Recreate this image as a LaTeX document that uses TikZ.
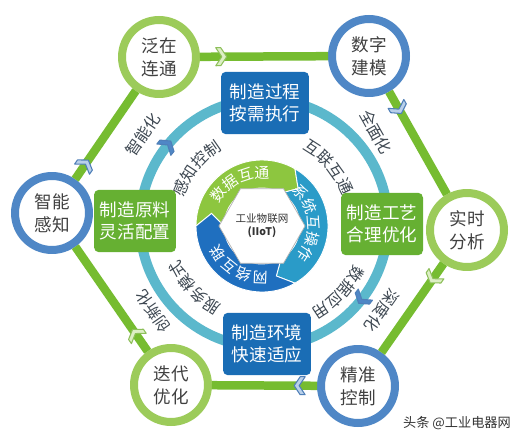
\documentclass[tikz,border=0pt]{standalone}
\usepackage{fontspec}
\setmainfont{Noto Sans CJK SC}
\usetikzlibrary{positioning, shapes.geometric, decorations.markings, decorations.text}

\definecolor{hexgreen}{HTML}{76BC30}
\definecolor{ringteal}{HTML}{5BB8CC}
\definecolor{boxblue}{HTML}{1A6DB5}
\definecolor{boxgreen}{HTML}{66B032}
\definecolor{circgreen}{HTML}{9CCB5A}
\definecolor{circblue}{HTML}{4F87C6}
\definecolor{hubgreen}{HTML}{8DC63F}
\definecolor{hubteal}{HTML}{2A9BC8}
\definecolor{hubblue}{HTML}{1F6FBF}
\definecolor{labgray}{HTML}{3E4852}
\definecolor{cvgfill}{HTML}{DDEFC5}
\definecolor{cvgline}{HTML}{8DBF5A}
\definecolor{cvbfill}{HTML}{B9D0EA}
\definecolor{cvbline}{HTML}{4F7FB8}

\newcommand{\chevpath}{(-6,9) -- (-1,9) -- (5,0) -- (-1,-9) -- (-6,-9) -- (0,0) -- cycle}

\tikzset{
  stage/.style={circle, fill=white, line width=0.16cm, minimum size=1.48cm, inner sep=0pt,
    align=center, text=black!75, font=\fontsize{10}{13}\selectfont},
  gstage/.style={stage, draw=circgreen},
  bstage/.style={stage, draw=circblue},
  mbox/.style={rounded corners=0.1cm, minimum height=1.25cm, align=center, text=white,
    font=\fontsize{10}{12.5}\selectfont},
  bluebox/.style={mbox, fill=boxblue, minimum width=1.76cm},
  greenbox/.style={mbox, fill=boxgreen, minimum width=1.56cm},
  hexline/.style={draw=hexgreen, line width=0.17cm},
  elab/.style={sloped, allow upside down, anchor=north, inner sep=1pt, outer sep=#1,
    text=labgray, font=\fontsize{9}{9}\selectfont},
  chevgreen/.style={fill=cvgfill, draw=cvgline, line width=0.6pt, line join=round},
  chevblue/.style={fill=cvbfill, draw=cvbline, line width=0.6pt, line join=round},
  ringchev/.style={fill=circblue, draw=cvbline, line width=0.6pt, line join=round},
  chev/.style={postaction={decorate, decoration={markings,
    mark=at position 0.17 with {\draw[#1] \chevpath;}}}},
  hexa/.style={regular polygon, regular polygon sides=6, draw=gray!60, fill=white,
    minimum size=1.44cm, inner sep=0pt, align=center, text=black!80,
    font=\fontsize{6}{7.5}\selectfont},
  arctext/.style={decorate, decoration={text along path, text align=center, text color=#1}}
}

\begin{document}
\begin{tikzpicture}[x=0.02cm, y=0.02cm]
\useasboundingbox[fill=white] (0,0) rectangle (523,443);

% inner ring
\coordinate (ring) at (264,220);
\draw[ringteal, line width=0.2cm] (ring) circle[radius=124];
\foreach \a in {141,-38}
  \draw[ringchev, shift={(ring)}, shift={(\a:124)}, rotate=\a-90] \chevpath;

% ring labels
\path[arctext=labgray, decoration={text={|\fontsize{9}{9}\selectfont|感知控制}}, shift={(ring)}]
  (176:84) arc[start angle=176, end angle=106, radius=84];
\path[arctext=labgray, decoration={text={|\fontsize{9}{9}\selectfont|互联互通}}, shift={(ring)}]
  (76:83) arc[start angle=76, end angle=6, radius=83];
\path[arctext=labgray, decoration={text={|\fontsize{9}{9}\selectfont|数据应用}}, shift={(ring)}]
  (-13:99) arc[start angle=-13, end angle=-73, radius=99];
\path[arctext=labgray, decoration={text={|\fontsize{9}{9}\selectfont|服务模式}}, shift={(ring)}]
  (-105:92) arc[start angle=-105, end angle=-169, radius=92];

% boxes on the ring
\node[bluebox] (guocheng) at (265,340) {制造过程\\按需执行};
\node[greenbox] (gongyi) at (382,219) {制造工艺\\合理优化};
\node[bluebox] (huanjing) at (267,99) {制造环境\\快速适应};
\node[greenbox] (yuanliao) at (135,222) {制造原料\\灵活配置};

% outer circles
\node[gstage] (fanzai) at (159,386) {泛在\\连通};
\node[bstage] (shuzi) at (369,387) {数字\\建模};
\node[gstage] (shishi) at (467,213) {实时\\分析};
\node[bstage] (jingzhun) at (358,57) {精准\\控制};
\node[gstage] (diedai) at (171,58) {迭代\\优化};
\node[bstage] (zhineng) at (52,230) {智能\\感知};

\draw[hexline, chev=chevgreen] (fanzai) -- (shuzi);
\draw[hexline, chev=chevblue] (shuzi) -- node[elab=0.44cm, pos=0.245]{全面化} (shishi);
\draw[hexline, chev=chevgreen] (shishi) -- node[elab=0.3cm, pos=0.68]{深度化} (jingzhun);
\draw[hexline, chev=chevblue] (jingzhun) -- (diedai);
\draw[hexline, chev=chevgreen] (diedai) -- node[elab=0.36cm, pos=0.23]{创新化} (zhineng);
\draw[hexline, chev=chevblue] (zhineng) -- node[elab=0.44cm, pos=0.7]{智能化} (fanzai);

% hub
\coordinate (hub) at (262,217);
\foreach \a/\b/\c in {180/60/hubgreen, 60/-60/hubteal, -60/-180/hubblue}
  \filldraw[fill=\c, draw=white, line width=0.5pt, shift={(hub)}]
    (\a:66) arc[start angle=\a, end angle=\b, radius=66] -- ({\b-14}:52) -- (\b:38)
    arc[start angle=\b, end angle=\a, radius=38] -- ({\a-14}:52) -- cycle;
\node[hexa] (iiot) at (hub) {工业物联网\\\textbf{(IIoT)}};

\path[arctext=white, decoration={text={|\fontsize{8.5}{9}\selectfont|数据互通}}, shift={(hub)}]
  (154:48) arc[start angle=154, end angle=80, radius=48];
\path[arctext=white, decoration={text={|\fontsize{8.5}{9}\selectfont|系统互操作}}, shift={(hub)}]
  (48:46) arc[start angle=48, end angle=-40, radius=46];
\path[arctext=white, decoration={text={|\fontsize{8.5}{9}\selectfont|网络互联}}, shift={(hub)}]
  (-82:46) arc[start angle=-82, end angle=-158, radius=46];

\node[text=black!80, font=\fontsize{7.5}{8}\selectfont] (mark) at (457,20) {头条 @工业电器网};
\end{tikzpicture}
\end{document}
